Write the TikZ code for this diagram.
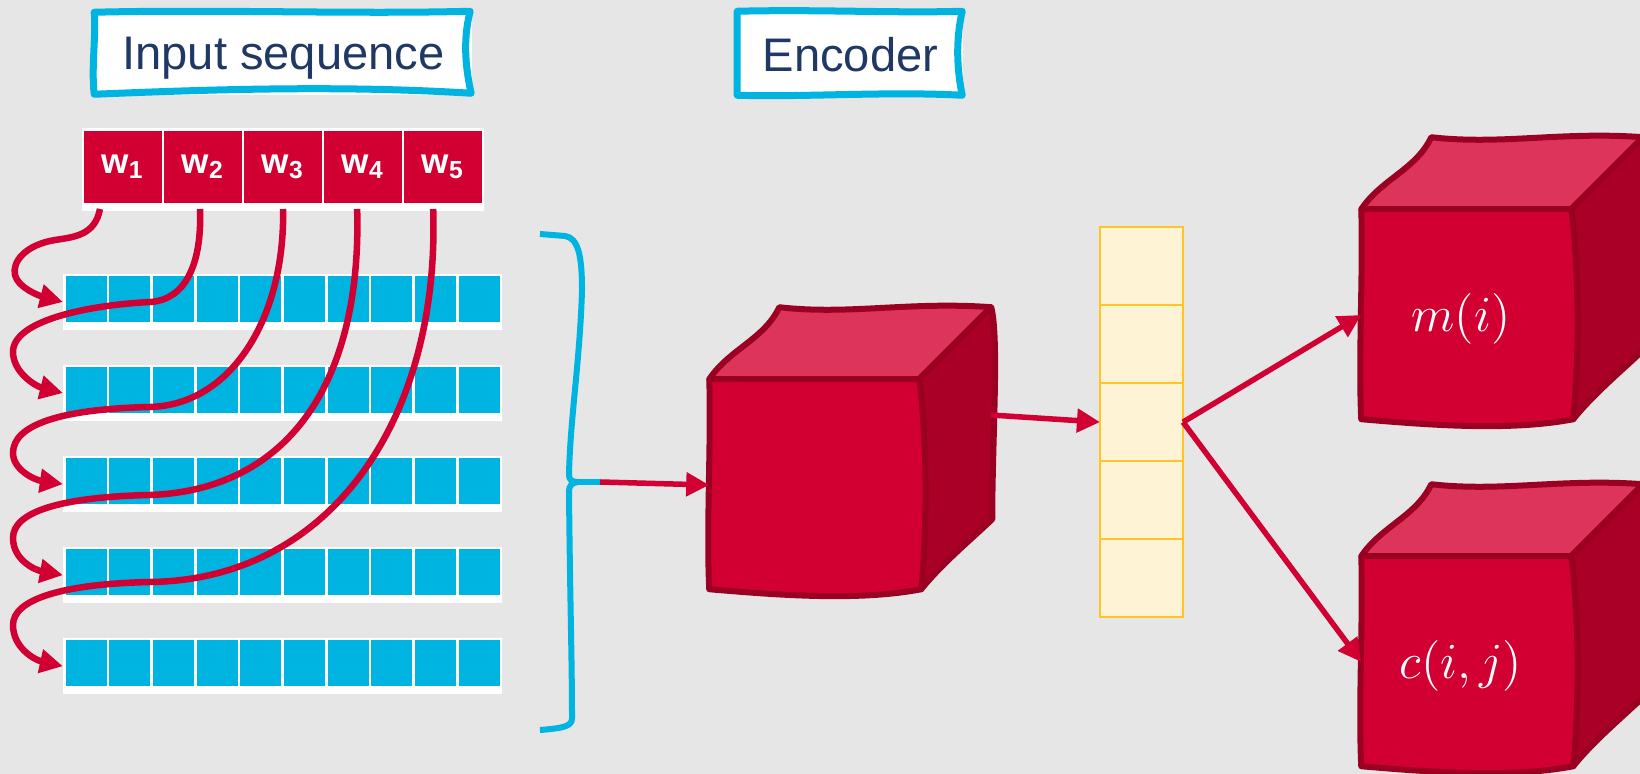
\documentclass[tikz,border=0pt]{standalone}
\usepackage{fontspec}
\setmainfont{Liberation Sans}
\usetikzlibrary{arrows.meta, positioning}
\definecolor{bggray}{RGB}{230,230,230}
\definecolor{navytext}{RGB}{31,56,100}
\definecolor{seqblue}{RGB}{0,180,226}
\definecolor{wordred}{RGB}{210,0,50}
\definecolor{cubetop}{RGB}{220,52,90}
\definecolor{cubeside}{RGB}{170,0,40}
\definecolor{cubeline}{RGB}{155,0,35}
\definecolor{vecfill}{RGB}{255,243,214}
\definecolor{vecline}{RGB}{255,196,40}
\tikzstyle{titlebox} = [rectangle, fill=white, text=navytext, font=\fontsize{13.4}{16}\selectfont, text depth=0pt, inner sep=0pt]
\tikzstyle{boxline} = [draw=seqblue, line width=0.07cm, line join=round]
\tikzstyle{strip} = [rectangle, fill=white, inner sep=0pt, outer sep=0pt]
\tikzstyle{wordcell} = [rectangle, fill=wordred, text=white, font=\fontsize{10}{12}\selectfont\bfseries, minimum width=0.78cm, minimum height=0.72cm, inner sep=0pt, outer sep=0pt]
\tikzstyle{vecbox} = [rectangle, fill=vecfill, draw=vecline, line width=0.025cm, minimum width=0.83cm, minimum height=0.78cm, inner sep=0pt, outer sep=0pt]
\tikzstyle{cubefront} = [rectangle, minimum width=2.1cm, minimum height=2.1cm, inner sep=0pt]
\tikzstyle{cubetext} = [text=white, font=\fontsize{14}{16}\selectfont]
\tikzstyle{cubeface} = [draw=cubeline, line width=0.06cm, line join=round]
\tikzstyle{bracestyle} = [draw=seqblue, line width=0.06cm, line join=round]
\tikzstyle{arrow} = [draw=wordred, line width=0.055cm, -{Triangle[length=0.23cm, width=0.23cm]}]
\tikzstyle{curvearrow} = [arrow, line width=0.065cm]

\begin{document}
\begin{tikzpicture}[x=0.01cm, y=-0.01cm]
			\useasboundingbox (0,0) rectangle (1640,774);
			\fill[bggray] (0,0) rectangle (1640,774);
			% Titles
			\node (inseq) [titlebox, minimum width=3.77cm, minimum height=0.83cm] at (283.5,53.5) {Input sequence};
			\begin{scope}[shift={(inseq.north west)}]
				\draw[boxline] (0,1) .. controls (120,-2) and (260,3) .. (376,0) .. controls (368,30) and (372,60) .. (377,82) .. controls (250,74) and (120,78) .. (0,83) .. controls (-3,55) and (2,25) .. (0,1) -- cycle;
			\end{scope}
			\node (encname) [titlebox, minimum width=2.25cm, minimum height=0.84cm] at (850.5,54) {Encoder};
			\begin{scope}[shift={(encname.north west)}]
				\draw[boxline] (0,0) .. controls (80,-2) and (160,2) .. (225,0) .. controls (218,30) and (220,60) .. (225,84) .. controls (150,80) and (70,86) .. (0,84) -- cycle;
			\end{scope}
			% Words
			\node (words) [strip, minimum width=4.02cm, minimum height=0.83cm] at (283,169.5) {};
			\node (w1) [wordcell] at (123,167) {w\textsubscript{1}};
			\node (w2) [wordcell, right=0.02cm of w1] {w\textsubscript{2}};
			\node (w3) [wordcell, right=0.02cm of w2] {w\textsubscript{3}};
			\node (w4) [wordcell, right=0.02cm of w3] {w\textsubscript{4}};
			\node (w5) [wordcell, right=0.02cm of w4] {w\textsubscript{5}};
			% Embedding rows
			\node (row1) [strip, minimum width=4.39cm, minimum height=0.56cm] at (282.5,302) {};
			\node (row2) [strip, minimum width=4.39cm, minimum height=0.56cm, below=0.35cm of row1] {};
			\node (row3) [strip, minimum width=4.39cm, minimum height=0.56cm, below=0.35cm of row2] {};
			\node (row4) [strip, minimum width=4.39cm, minimum height=0.56cm, below=0.35cm of row3] {};
			\node (row5) [strip, minimum width=4.39cm, minimum height=0.56cm, below=0.35cm of row4] {};
			\foreach \r in {1,...,5}
				\foreach \i in {0,...,9}
					\fill[seqblue] ([shift={(2.7+43.67*\i,2)}]row\r.north west) rectangle ++(41,46);
			% Word arrows
			\draw [curvearrow] ([shift={(-23,6)}]w1.south) .. controls (95,235) and (75,237) .. (55,240) .. controls (25,245) and (12,262) .. (15,275) .. controls (18,288) and (40,296) .. (row1.west);
			\draw [curvearrow] ([shift={(-3,6)}]w2.south) .. controls (202,265) and (185,300) .. (150,302) .. controls (90,305) and (13,320) .. (13,352) .. controls (13,372) and (35,386) .. (row2.west);
			\draw [curvearrow] ([shift={(0,6)}]w3.south) .. controls (285,320) and (230,405) .. (150,407) .. controls (60,409) and (13,425) .. (13,453) .. controls (13,470) and (35,480) .. (row3.west);
			\draw [curvearrow] ([shift={(-6,6)}]w4.south) .. controls (362,380) and (290,490) .. (150,495) .. controls (60,497) and (13,512) .. (13,538) .. controls (13,560) and (35,570) .. (row4.west);
			\draw [curvearrow] ([shift={(-10,6)}]w5.south) .. controls (440,420) and (330,580) .. (150,582) .. controls (60,584) and (13,600) .. (13,625) .. controls (13,648) and (35,660) .. (row5.west);
			% Brace
			\coordinate (bracetip) at (600,482);
			\draw[bracestyle] (540,234) -- (565,236) .. controls (578,238) and (582,255) .. (582,290) .. controls (580,360) and (570,420) .. (569,475) .. controls (569,480) and (572,482) .. (578,482) .. controls (572,483) and (569,485) .. (569,492) .. controls (570,600) and (572,660) .. (572,718) .. controls (572,726) and (565,728) .. (540,730);
			\draw[bracestyle] (578,482) -- (bracetip);
			% Cubes
			\node (enc) [cubefront] at (815,485) {};
			\node (mi) [cubefront] at (1467,315) {};
			\node (cij) [cubefront] at (1467,662) {};
			\foreach \c in {enc,mi,cij} {
				\begin{scope}[shift={(\c.north west)}]
					\filldraw[cubeface, fill=cubetop] (0,0) .. controls (20,-30) and (55,-40) .. (70,-72) .. controls (140,-64) and (200,-78) .. (282,-72) -- (210,0) -- cycle;
					\filldraw[cubeface, fill=cubeside] (210,0) -- (282,-72) .. controls (290,-40) and (283,60) .. (283,140) .. controls (262,160) and (232,185) .. (212,210) .. controls (218,150) and (218,60) .. (210,0) -- cycle;
					\filldraw[cubeface, fill=wordred] (0,0) -- (210,0) .. controls (218,60) and (218,150) .. (212,210) .. controls (150,222) and (70,216) .. (0,210) .. controls (-3,150) and (2,60) .. (0,0) -- cycle;
				\end{scope}
			}
			\node (mitext) [cubetext] at ([shift={(-6,4)}]mi.center) {$m(i)$};
			\node (cijtext) [cubetext] at ([shift={(-6,4)}]cij.center) {$c(i,j)$};
			% Vector
			\node (vec1) [vecbox] at (1141.5,266) {};
			\node (vec2) [vecbox, below=0cm of vec1] {};
			\node (vec3) [vecbox, below=0cm of vec2] {};
			\node (vec4) [vecbox, below=0cm of vec3] {};
			\node (vec5) [vecbox, below=0cm of vec4] {};
			% Arrows
			\draw [arrow] (bracetip) -- (enc.west);
			\draw [arrow] ([shift={(70,-70)}]enc.east) -- (vec3.west);
			\draw [arrow] (vec3.east) -- (mi.west);
			\draw [arrow] (vec3.east) -- (cij.west);
\end{tikzpicture}
\end{document}
